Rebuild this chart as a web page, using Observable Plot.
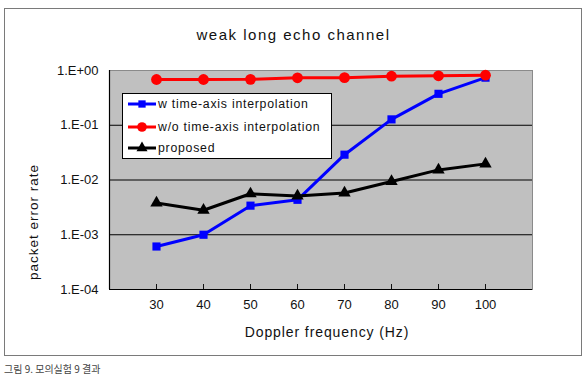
<!DOCTYPE html>
<html><head><meta charset="utf-8">
<script src="https://cdn.jsdelivr.net/npm/d3@7"></script>
<script src="https://cdn.jsdelivr.net/npm/@observablehq/plot@0.6"></script>
<style>
body{margin:0;background:#fff;width:587px;height:376px;overflow:hidden;position:relative;font-family:"Liberation Sans",Arial,sans-serif}
#frame{position:absolute;left:4px;top:8px;width:578px;height:348px;border:1.5px solid #7a7a7a;box-sizing:border-box}
#title{position:absolute;top:26px;left:0;width:587px;text-align:center;font-size:15px;letter-spacing:1.5px;color:#111}
#chart{position:absolute;left:0;top:0}
#legend{position:absolute;left:122px;top:93px}
#xlabel{position:absolute;left:0;width:654px;top:324px;text-align:center;font-size:14px;letter-spacing:0.9px;color:#111}
#ylabel{position:absolute;left:33px;top:222px;width:0;height:0}
#ylabel span{position:absolute;left:0;top:0;transform:translate(-50%,-50%) rotate(-90deg);white-space:nowrap;font-size:13.5px;letter-spacing:1px;color:#111}
#caption{position:absolute;left:4px;top:363px;font-family:"Noto Sans CJK KR",sans-serif;font-size:10px;line-height:12px;color:#444;white-space:nowrap}
</style></head>
<body>
<div id="frame"></div>
<div id="title">weak long echo channel</div>
<div id="chart"></div>
<div id="legend"></div>
<div id="xlabel">Doppler frequency (Hz)</div>
<div id="ylabel"><span>packet error rate</span></div>
<div id="caption">그림 9. 모의실험 9 결과</div>
<script>
const freqs = [30, 40, 50, 60, 70, 80, 90, 100];
const wInterp = [6.1e-4, 1.0e-3, 3.4e-3, 4.35e-3, 2.9e-2, 0.128, 0.375, 0.74];
const woInterp = [0.685, 0.685, 0.69, 0.736, 0.74, 0.787, 0.80, 0.82];
const proposed = [3.8e-3, 2.8e-3, 5.6e-3, 5.1e-3, 5.8e-3, 9.4e-3, 1.53e-2, 1.97e-2];
const seriesNames = ["w time-axis interpolation", "w/o time-axis interpolation", "proposed"];
const seriesColors = ["#0000ff", "#ff0000", "#000000"];
const seriesSymbols = ["square", "circle", "triangle"];
const seriesR = [4.6, 5.4, 4.6];
const xDomain = [20, 110];
const yTicks = [1, 1e-1, 1e-2, 1e-3, 1e-4];
const yDomain = [1e-4, 1];
const gridTicks = [1e-1, 1e-2, 1e-3];

const seriesValues = [wInterp, woInterp, proposed];
const data = seriesValues.flatMap((vals, s) => vals.map((v, i) => ({x: freqs[i], y: v, s})));

const fmt = d => {
  const e = Math.round(Math.log10(d));
  return "1.E" + (e >= 0 ? "+" : "-") + String(Math.abs(e)).padStart(2, "0");
};

const font = "'Liberation Sans', Arial, sans-serif";
const chart = Plot.plot({
  width: 587, height: 376,
  marginLeft: 109, marginRight: 55, marginTop: 70, marginBottom: 87,
  style: {background: "transparent", fontFamily: font, color: "#111"},
  x: {domain: xDomain},
  y: {type: "log", domain: yDomain},
  marks: [
    Plot.frame({fill: "#c0c0c0", stroke: "#8a8a8a"}),
    Plot.ruleY(gridTicks, {stroke: "#000", strokeWidth: 1}),
    Plot.ruleX([xDomain[0]], {stroke: "#000", strokeWidth: 1.2}),
    Plot.ruleY([yDomain[0]], {stroke: "#000", strokeWidth: 1.2}),
    Plot.axisX({ticks: freqs, tickSize: -5, tickPadding: 15, fontSize: 13, label: null, tickFormat: d => d, style: "letter-spacing:1.5px"}),
    Plot.axisY({ticks: yTicks, tickSize: 0, tickPadding: 11, fontSize: 13, label: null, tickFormat: fmt, style: "letter-spacing:1px"}),
    ...seriesValues.map((_, s) => Plot.line(data.filter(d => d.s === s), {x: "x", y: "y", stroke: seriesColors[s], strokeWidth: 3})),
    ...seriesValues.map((_, s) => Plot.dot(data.filter(d => d.s === s), {x: "x", y: "y", fill: seriesColors[s], stroke: "none", symbol: seriesSymbols[s], r: seriesR[s]}))
  ]
});
document.getElementById("chart").appendChild(chart);

// legend
const lw = 210, lh = 66;
const svg = d3.select("#legend").append("svg").attr("width", lw).attr("height", lh);
svg.append("rect").attr("x", 0.5).attr("y", 0.5).attr("width", lw - 1).attr("height", lh - 1).attr("fill", "#fff").attr("stroke", "#000");
const rowY = [11, 34, 55];
seriesNames.forEach((name, s) => {
  const g = svg.append("g").attr("transform", `translate(0,${rowY[s]})`);
  g.append("line").attr("x1", 6).attr("x2", 34).attr("y1", 0).attr("y2", 0).attr("stroke", seriesColors[s]).attr("stroke-width", 3);
  const sym = d3.symbol().type({square: d3.symbolSquare, circle: d3.symbolCircle, triangle: d3.symbolTriangle}[seriesSymbols[s]]).size(Math.PI * seriesR[s] ** 2 * 0.8);
  g.append("path").attr("d", sym()).attr("transform", "translate(20,0)").attr("fill", seriesColors[s]);
  g.append("text").attr("x", 36).attr("y", 0).attr("dy", "0.35em").attr("font-size", 12.3).attr("font-family", font).attr("fill", "#111").style("letter-spacing", "0.75px").text(name);
});
</script>
</body></html>
